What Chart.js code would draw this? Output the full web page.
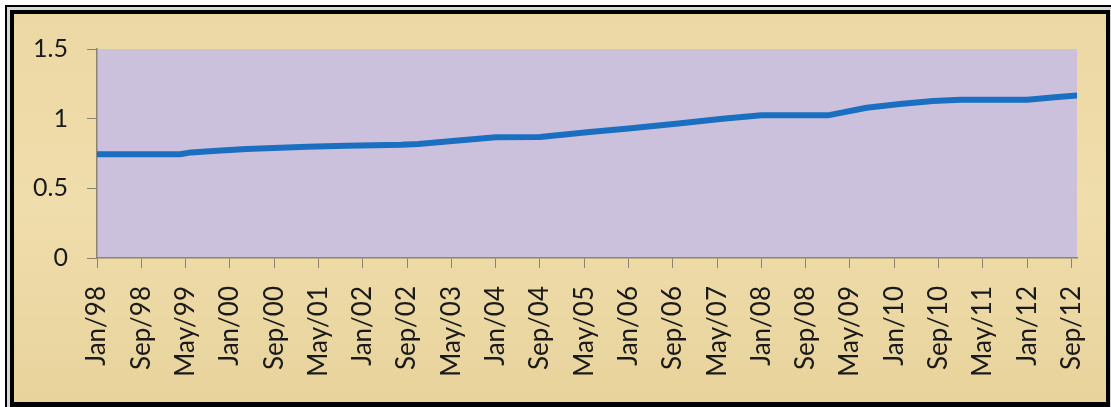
<!DOCTYPE html>
<html>
<head>
<meta charset="utf-8">
<script src="https://cdn.jsdelivr.net/npm/chart.js@4.4.0/dist/chart.umd.min.js"></script>
<style>
    body { margin: 0; background: #fff; }
    #wrap { width: 1111px; height: 407px; }
</style>
</head>
<body>
<div id="wrap"><canvas id="rateChart"></canvas></div>
<script>
// month index counted from Jan/98
const months = [0, 15, 17, 21, 27, 38, 45, 55, 58, 72, 80, 89, 96, 105, 113, 120, 132, 139, 145, 151, 156, 168, 173, 177];
const values = [0.745, 0.745, 0.758, 0.768, 0.782, 0.798, 0.806, 0.812, 0.818, 0.866, 0.869, 0.905, 0.930, 0.966, 0.999, 1.025, 1.024, 1.078, 1.105, 1.126, 1.135, 1.136, 1.154, 1.166];

// one label every 8 months
const tickLabels = ['Jan/98', 'Sep/98', 'May/99', 'Jan/00', 'Sep/00', 'May/01', 'Jan/02', 'Sep/02',
    'May/03', 'Jan/04', 'Sep/04', 'May/05', 'Jan/06', 'Sep/06', 'May/07', 'Jan/08', 'Sep/08',
    'May/09', 'Jan/10', 'Sep/10', 'May/11', 'Jan/12', 'Sep/12'];

const yTicks = [0, 0.5, 1, 1.5];

// frame, parchment and plot background
const backdrop = {
    id: 'backdrop',
    beforeDraw(chart) {
        const { ctx, width, height, chartArea: a } = chart;
        ctx.save();
        ctx.fillStyle = '#fff';
        ctx.fillRect(0, 0, width, height);
        ctx.fillStyle = '#000';
        ctx.fillRect(5, 5, width - 5, height - 5);
        ctx.fillStyle = '#d8d8d8';
        ctx.fillRect(7, 7, width - 7, height - 7);
        ctx.fillStyle = '#000';
        ctx.fillRect(10, 10, 1100, height - 10);
        const g = ctx.createLinearGradient(0, 14, 0, 402);
        g.addColorStop(0, '#ecd8a4');
        g.addColorStop(0.5, '#efddab');
        g.addColorStop(1, '#e8d39c');
        ctx.fillStyle = g;
        ctx.fillRect(14, 14, 1092, 388);
        ctx.fillStyle = '#ccc1dc';
        ctx.fillRect(a.left, a.top, a.right - a.left, a.bottom - a.top);
        ctx.restore();
    }
};

const ctx = document.getElementById('rateChart').getContext('2d');

new Chart(ctx, {
    type: 'line',
    data: {
        datasets: [{
            data: months.map((m, i) => ({ x: m, y: values[i] })),
            borderColor: '#1b6fc0',
            borderWidth: 6,
            borderCapStyle: 'round',
            borderJoinStyle: 'round',
            pointRadius: 0,
            tension: 0,
            fill: false
        }]
    },
    options: {
        responsive: true,
        maintainAspectRatio: false,
        animation: false,
        layout: { padding: { left: 14, top: 49, right: 34, bottom: 14 } },
        plugins: {
            legend: { display: false },
            tooltip: { enabled: false }
        },
        scales: {
            x: {
                type: 'linear',
                min: 0,
                max: 177,
                afterBuildTicks: (scale) => {
                    scale.ticks = tickLabels.map((_, i) => ({ value: i * 8 }));
                },
                afterFit: (scale) => {
                    scale.height = 135;
                    scale.paddingLeft = 0;
                    scale.paddingRight = 0;
                },
                border: { color: '#8c8470', width: 1.5 },
                grid: { drawOnChartArea: false, drawTicks: true, tickLength: 10, color: '#8c8470' },
                ticks: {
                    autoSkip: false,
                    minRotation: 90,
                    maxRotation: 90,
                    padding: 18,
                    color: '#1a1a1a',
                    font: { family: 'Lato', size: 26 },
                    callback: (v) => tickLabels[v / 8]
                }
            },
            y: {
                min: 0,
                max: 1.5,
                afterBuildTicks: (scale) => {
                    scale.ticks = yTicks.map(v => ({ value: v }));
                },
                afterFit: (scale) => { scale.width = 83; },
                border: { color: '#8c8470', width: 1.5 },
                grid: { drawOnChartArea: false, drawTicks: true, tickLength: 10, color: '#8c8470' },
                ticks: {
                    padding: 19,
                    color: '#1a1a1a',
                    font: { family: 'Lato', size: 25 },
                    callback: (v) => String(v)
                }
            }
        }
    },
    plugins: [backdrop]
});
</script>
</body>
</html>
